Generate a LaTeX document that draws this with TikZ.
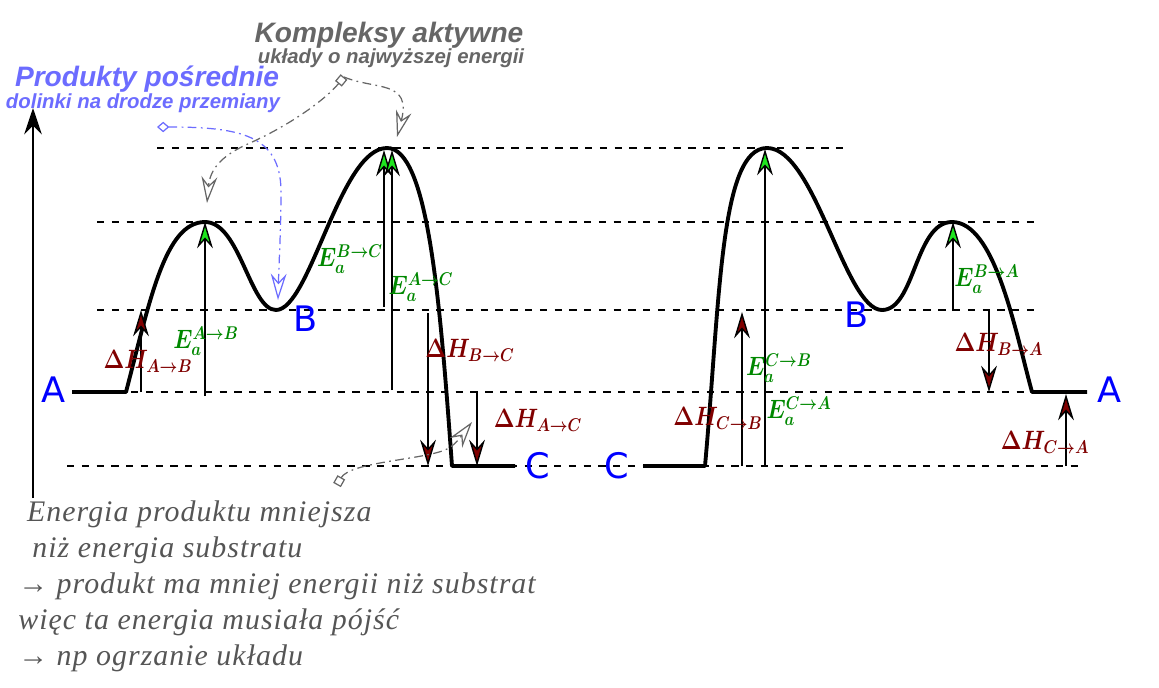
\documentclass[tikz,border=0pt]{standalone}
\usepackage{fontspec}
\usepackage{amsmath}
\usepackage{bm}
\usepackage{graphicx}
\usetikzlibrary{arrows.meta}
\newfontfamily\literyfont{DejaVu Sans}
\newfontfamily\opisfont[LetterSpace=3.5]{Liberation Serif}
\newfontfamily\notkafont{Liberation Sans}
\definecolor{ciemnyczerwony}{RGB}{128,0,0}
\definecolor{zielony}{RGB}{0,136,0}
\definecolor{jasnyzielony}{RGB}{30,230,30}
\definecolor{fiolet}{RGB}{108,108,255}
\definecolor{szary}{RGB}{102,102,102}
\definecolor{szaryopis}{RGB}{85,85,85}
% wzory w etykietach (nieco zwezone)
\newcommand{\wzor}[1]{\scalebox{0.88}[1.05]{$\bm{#1}$}}

\begin{document}
\begin{tikzpicture}[x=0.02cm,y=-0.02cm,
    poziom/.style={line width=0.8pt, dash pattern=on 4.2pt off 4.2pt},
    krzywa/.style={line width=2.2pt, line join=round},
    os/.style={line width=0.8pt, -{Stealth[length=15pt,width=10pt,inset=5pt]}},
    strzalkaE/.style={line width=0.8pt, -{Stealth[length=15pt,width=9pt,inset=5pt,fill=jasnyzielony]}},
    strzalkaH/.style={line width=0.8pt, -{Stealth[length=15pt,width=9pt,inset=5pt,fill=ciemnyczerwony]}},
    litera/.style={text=blue, font=\literyfont\fontsize{20}{20}\selectfont, inner sep=0pt},
    etykE/.style={text=zielony, font=\fontsize{14}{14}\selectfont, inner sep=0pt},
    etykH/.style={text=ciemnyczerwony, font=\fontsize{14}{14}\selectfont, inner sep=0pt},
    wskaz/.style={line width=0.7pt, dash pattern=on 5pt off 2.5pt on 1pt off 2.5pt},
    opis/.style={text=szaryopis, font=\opisfont\itshape\fontsize{17}{20.5}\selectfont, align=left, inner sep=0pt}]

    \useasboundingbox (0,0) rectangle (1159,687);

    % poziomy energii
    \def\ytop{148}
    \def\ypik{222}
    \def\yB{310}
    \def\yA{392}
    \def\yC{466}

    \draw[poziom] (157,\ytop) -- (850,\ytop);
    \draw[poziom] (97,\ypik) -- (1040,\ypik);
    \draw[poziom] (97,\yB) -- (1040,\yB);
    \draw[poziom] (72,\yA) -- (1085,\yA);
    \draw[poziom] (67,\yC) -- (1085,\yC);

    % os energii
    \coordinate (os0) at (33,498);
    \coordinate (os1) at (33,108);
    \draw[os] (os0) -- (os1);

    % lewa krzywa: A -> B -> C
    \draw[krzywa] (72,\yA) -- (126,\yA)
        .. controls (150,300) and (165,\ypik) .. (205,\ypik)
        .. controls (240,\ypik) and (250,\yB) .. (276,\yB)
        .. controls (310,\yB) and (340,\ytop) .. (387,\ytop)
        .. controls (428,\ytop) and (440,300) .. (452,\yC) -- (515,\yC);

    % prawa krzywa: C -> B -> A
    \draw[krzywa] (643,\yC) -- (705,\yC)
        .. controls (720,300) and (720,\ytop) .. (767,\ytop)
        .. controls (815,\ytop) and (845,\yB) .. (882,\yB)
        .. controls (915,\yB) and (915,\ypik) .. (952,\ypik)
        .. controls (995,\ypik) and (1015,330) .. (1032,\yA) -- (1087,\yA);

    % strzalki po lewej
    \coordinate (hAB0) at (141,\yA);
    \coordinate (hAB1) at (141,\yB);
    \coordinate (eAB0) at (205,396);
    \coordinate (eAB1) at (205,\ypik);
    \coordinate (eBC0) at (384,307);
    \coordinate (eBC1) at (384,150);
    \coordinate (eAC0) at (392,390);
    \coordinate (eAC1) at (392,150);
    \coordinate (hBC0) at (428,313);
    \coordinate (hBC1) at (428,\yC);
    \coordinate (hAC0) at (477,393);
    \coordinate (hAC1) at (477,\yC);

    \draw[strzalkaH] (hAB0) -- (hAB1);
    \draw[strzalkaE] (eAB0) -- (eAB1);
    \draw[strzalkaE] (eBC0) -- (eBC1);
    \draw[strzalkaE] (eAC0) -- (eAC1);
    \draw[strzalkaH] (hBC0) -- (hBC1);
    \draw[strzalkaH] (hAC0) -- (hAC1);

    % strzalki po prawej
    \coordinate (hCB0) at (742,\yC);
    \coordinate (hCB1) at (742,312);
    \coordinate (eCB0) at (765,\yC);
    \coordinate (eCB1) at (765,149);
    \coordinate (eBA0) at (953,311);
    \coordinate (eBA1) at (953,\ypik);
    \coordinate (hBA0) at (989,311);
    \coordinate (hBA1) at (989,\yA);
    \coordinate (hCA0) at (1066,\yC);
    \coordinate (hCA1) at (1066,394);

    \draw[strzalkaH] (hCB0) -- (hCB1);
    \draw[strzalkaE] (eCB0) -- (eCB1);
    \draw[strzalkaE] (eBA0) -- (eBA1);
    \draw[strzalkaH] (hBA0) -- (hBA1);
    \draw[strzalkaH] (hCA0) -- (hCA1);

    % stany A, B, C
    \node[litera] (A1) at (54,390) {A};
    \node[litera] (B1) at (306,319) {B};
    \node[litera] (C1) at (538,466) {C};
    \node[litera] (C2) at (617,466) {C};
    \node[litera] (B2) at (857,315) {B};
    \node[litera] (A2) at (1110,390) {A};

    % energie aktywacji i entalpie
    \node[etykH] (lhAB) at (148,361) {\wzor{\Delta H_{A\to B}}};
    \node[etykE] (leAB) at (206,341) {\wzor{E_a^{A\to B}}};
    \node[etykE] (leBC) at (350,259) {\wzor{E_a^{B\to C}}};
    \node[etykE] (leAC) at (421,287) {\wzor{E_a^{A\to C}}};
    \node[etykH] (lhBC) at (470,350) {\wzor{\Delta H_{B\to C}}};
    \node[etykH] (lhAC) at (538,420) {\wzor{\Delta H_{A\to C}}};
    \node[etykH] (lhCB) at (718,418) {\wzor{\Delta H_{C\to B}}};
    \node[etykE] (leCB) at (779,368) {\wzor{E_a^{C\to B}}};
    \node[etykE] (leCA) at (799,411) {\wzor{E_a^{C\to A}}};
    \node[etykE] (leBA) at (987,279) {\wzor{E_a^{B\to A}}};
    \node[etykH] (lhBA) at (999,344) {\wzor{\Delta H_{B\to A}}};
    \node[etykH] (lhCA) at (1045,442) {\wzor{\Delta H_{C\to A}}};

    % kompleksy aktywne
    \node[text=szary, font=\notkafont\bfseries\itshape\fontsize{16}{16}\selectfont, inner sep=0pt, anchor=base] (kompl) at (389,42) {Kompleksy aktywne};
    \node[text=szary, font=\notkafont\bfseries\itshape\fontsize{11.6}{11.6}\selectfont, inner sep=0pt, anchor=base] (komplopis) at (391,63) {układy o najwyższej energii};
    \coordinate (komplPkt) at (344,77);
    \coordinate (szczyt1) at (207,203);
    \coordinate (szczyt2) at (397,137);
    \draw[wskaz, draw=szary, {Square[open,length=5pt,width=5pt]}-{Stealth[open,length=15pt,width=9pt,inset=5pt]}]
        (komplPkt) .. controls (325,100) and (290,125) .. (250,143)
        .. controls (220,156) and (210,170) .. (szczyt1);
    \draw[wskaz, draw=szary, -{Stealth[open,length=15pt,width=9pt,inset=5pt]}]
        (komplPkt) .. controls (375,90) and (412,80) .. (szczyt2);

    % produkty posrednie
    \node[text=fiolet, font=\notkafont\bfseries\itshape\fontsize{16}{16}\selectfont, inner sep=0pt, anchor=base] (prod) at (147,86) {Produkty pośrednie};
    \node[text=fiolet, font=\notkafont\bfseries\itshape\fontsize{11.6}{11.6}\selectfont, inner sep=0pt, anchor=base] (prodopis) at (143,108) {dolinki na drodze przemiany};
    \coordinate (prodPkt) at (157,127);
    \coordinate (dolinka) at (278,300);
    \draw[wskaz, draw=fiolet, {Diamond[open,length=7pt,width=6pt]}-{Stealth[open,length=15pt,width=9pt,inset=5pt]}]
        (prodPkt) .. controls (240,127) and (280,135) .. (281,190)
        .. controls (281,230) and (279,260) .. (dolinka);

    % opis na dole
    \coordinate (opisPkt) at (337,485);
    \coordinate (spadek) at (472,422);
    \draw[wskaz, draw=szary, {Square[open,length=5pt,width=5pt]}-{Stealth[open,length=15pt,width=9pt,inset=5pt]}]
        (opisPkt) .. controls (350,462) and (420,460) .. (445,450)
        .. controls (455,446) and (462,435) .. (spadek);
    \node[opis, anchor=north west] (opis) at (18,500) {\hspace*{5pt}Energia produktu mniejsza\\
        \hspace*{8pt}niż energia substratu\\
        → produkt ma mniej energii niż substrat\\
        więc ta energia musiała pójść\\
        → np ogrzanie układu};
\end{tikzpicture}
\end{document}
